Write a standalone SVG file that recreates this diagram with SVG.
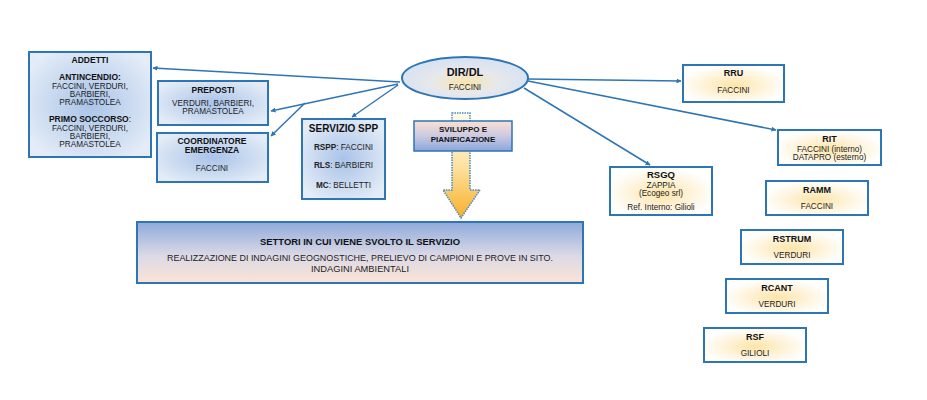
<svg xmlns="http://www.w3.org/2000/svg" width="927" height="400" viewBox="0 0 927 400">
<defs>
<radialGradient id="gBlue" cx="50%" cy="50%" r="60%">
<stop offset="0" stop-color="#a9c3e8"/>
<stop offset="1" stop-color="#e4ecf7"/>
</radialGradient>
<radialGradient id="gOrange" cx="50%" cy="55%" r="55%">
<stop offset="0" stop-color="#fde4a8"/>
<stop offset="0.6" stop-color="#fef5df"/>
<stop offset="1" stop-color="#ffffff"/>
</radialGradient>
<radialGradient id="gEll" cx="50%" cy="60%" r="55%">
<stop offset="0" stop-color="#f8e4ad"/>
<stop offset="0.5" stop-color="#e6e8ec"/>
<stop offset="1" stop-color="#d7e2f2"/>
</radialGradient>
<linearGradient id="gSett" x1="0" y1="0" x2="0" y2="1">
<stop offset="0" stop-color="#8eaadb"/>
<stop offset="0.55" stop-color="#dcd9e6"/>
<stop offset="1" stop-color="#fbe4d5"/>
</linearGradient>
<linearGradient id="gSvil" x1="0" y1="0" x2="0" y2="1">
<stop offset="0" stop-color="#fbe0d2"/>
<stop offset="0.5" stop-color="#cbc9e2"/>
<stop offset="1" stop-color="#8aa7db"/>
</linearGradient>
<linearGradient id="gArrow" x1="0" y1="0" x2="0" y2="1">
<stop offset="0" stop-color="#fdfbea"/>
<stop offset="0.5" stop-color="#fce3a2"/>
<stop offset="1" stop-color="#f7b02a"/>
</linearGradient>
<marker id="ah" viewBox="0 0 10 10" refX="9" refY="5" markerWidth="5" markerHeight="5" orient="auto" markerUnits="userSpaceOnUse">
<path d="M0,0 L10,5 L0,10 z" fill="#2e75b6"/>
</marker>
</defs>
<style>
.bb{fill:url(#gBlue);stroke:#2e75b6;stroke-width:2}
.ob{fill:url(#gOrange);stroke:#2e75b6;stroke-width:2}
text{font-family:"Liberation Sans",Arial,sans-serif;fill:#222;text-anchor:middle}
.t{font-size:8.5px;font-weight:bold;fill:#111}
.s{font-size:8.2px}
.h{font-size:10px;font-weight:bold;fill:#111}
.c{stroke:#2e75b6;stroke-width:1.5;fill:none}
</style>
<rect width="927" height="400" fill="#ffffff"/>

<g id="connectors">
<line class="c" x1="400" y1="82" x2="153" y2="68" marker-end="url(#ah)"/>
<line class="c" x1="398" y1="84" x2="271" y2="111" marker-end="url(#ah)"/>
<line class="c" x1="305" y1="103" x2="271" y2="136" marker-end="url(#ah)"/>
<line class="c" x1="398" y1="85" x2="352" y2="117" marker-end="url(#ah)"/>
<line class="c" x1="528" y1="79" x2="681" y2="81" marker-end="url(#ah)"/>
<line class="c" x1="528" y1="81" x2="776" y2="130" marker-end="url(#ah)"/>
<line class="c" x1="524" y1="88" x2="650" y2="165" marker-end="url(#ah)"/>
</g>

<g id="addetti">
<rect class="bb" x="29" y="52" width="122" height="105"/>
<text class="t" x="90" y="63">ADDETTI</text>
<text class="t" x="90" y="80">ANTINCENDIO:</text>
<text class="s" x="90" y="89">FACCINI, VERDURI,</text>
<text class="s" x="90" y="97">BARBIERI,</text>
<text class="s" x="90" y="105">PRAMASTOLEA</text>
<text class="t" x="90" y="122">PRIMO SOCCORSO<tspan font-weight="normal">:</tspan></text>
<text class="s" x="90" y="131">FACCINI, VERDURI,</text>
<text class="s" x="90" y="139">BARBIERI,</text>
<text class="s" x="90" y="147">PRAMASTOLEA</text>
</g>

<g id="preposti">
<rect class="bb" x="158" y="81" width="110" height="44"/>
<text class="t" x="213" y="93">PREPOSTI</text>
<text class="s" x="213" y="106">VERDURI, BARBIERI,</text>
<text class="s" x="213" y="114">PRAMASTOLEA</text>
</g>

<g id="coordinatore">
<rect class="bb" x="157" y="133" width="111" height="49"/>
<text class="t" x="212" y="144">COORDINATORE</text>
<text class="t" x="212" y="153">EMERGENZA</text>
<text class="s" x="212" y="171">FACCINI</text>
</g>

<g id="spp">
<rect class="bb" x="302" y="119" width="83" height="80"/>
<text class="h" x="343.5" y="132">SERVIZIO SPP</text>
<text class="s" x="343.5" y="150"><tspan font-weight="bold">RSPP</tspan>: FACCINI</text>
<text class="s" x="343.5" y="168"><tspan font-weight="bold">RLS</tspan>: BARBIERI</text>
<text class="s" x="343.5" y="188"><tspan font-weight="bold">MC</tspan>: BELLETTI</text>
</g>

<g id="dir">
<ellipse cx="465" cy="78" rx="63" ry="21" fill="url(#gEll)" stroke="#2e75b6" stroke-width="2"/>
<text class="h" x="465" y="76" style="font-size:11px">DIR/DL</text>
<text class="s" x="465" y="90">FACCINI</text>
</g>

<g id="arrow">
<path d="M452,113 H470 V190 H480 L461,218 L443,190 H452 Z" fill="url(#gArrow)" stroke="#4a86c8" stroke-width="1.5" stroke-dasharray="1.5,1"/>
</g>

<g id="sviluppo">
<rect x="414" y="121" width="98" height="30" fill="url(#gSvil)" stroke="#2e75b6" stroke-width="1.5"/>
<text class="t" x="463" y="132" style="font-size:8px">SVILUPPO E</text>
<text class="t" x="463" y="142" style="font-size:8px">PIANIFICAZIONE</text>
</g>

<g id="settori">
<rect x="137" y="222" width="446" height="61" fill="url(#gSett)" stroke="#2e75b6" stroke-width="2"/>
<text class="t" x="360" y="245" style="font-size:8.5px" textLength="200" lengthAdjust="spacingAndGlyphs">SETTORI IN CUI VIENE SVOLTO IL SERVIZIO</text>
<text class="s" x="360" y="261" style="font-size:8.5px" textLength="386" lengthAdjust="spacingAndGlyphs">REALIZZAZIONE DI INDAGINI GEOGNOSTICHE, PRELIEVO DI CAMPIONI E PROVE IN SITO.</text>
<text class="s" x="360" y="272" style="font-size:8.5px" textLength="98" lengthAdjust="spacingAndGlyphs">INDAGINI AMBIENTALI</text>
</g>

<g id="rru">
<rect class="ob" x="683" y="65" width="101" height="37"/>
<text class="t" x="733.5" y="76" style="font-size:9px">RRU</text>
<text class="s" x="733.5" y="93">FACCINI</text>
</g>

<g id="rit">
<rect class="ob" x="778" y="130" width="103" height="35"/>
<text class="t" x="829.5" y="142" style="font-size:9px">RIT</text>
<text class="s" x="829.5" y="152">FACCINI (interno)</text>
<text class="s" x="829.5" y="160">DATAPRO (esterno)</text>
</g>

<g id="rsgq">
<rect class="ob" x="610" y="167" width="102" height="48"/>
<text class="t" x="661" y="178" style="font-size:9.5px">RSGQ</text>
<text class="s" x="661" y="188">ZAPPIA</text>
<text class="s" x="661" y="196">(Ecogeo srl)</text>
<text class="s" x="661" y="210">Ref. Interno: Gilioli</text>
</g>

<g id="ramm">
<rect class="ob" x="766" y="181" width="102" height="34"/>
<text class="t" x="817" y="193" style="font-size:9px">RAMM</text>
<text class="s" x="817" y="209">FACCINI</text>
</g>

<g id="rstrum">
<rect class="ob" x="741" y="230" width="102" height="34"/>
<text class="t" x="792" y="242" style="font-size:9px">RSTRUM</text>
<text class="s" x="792" y="258">VERDURI</text>
</g>

<g id="rcant">
<rect class="ob" x="726" y="279" width="102" height="34"/>
<text class="t" x="777" y="291" style="font-size:9px">RCANT</text>
<text class="s" x="777" y="307">VERDURI</text>
</g>

<g id="rsf">
<rect class="ob" x="704" y="328" width="102" height="34"/>
<text class="t" x="755" y="340" style="font-size:9px">RSF</text>
<text class="s" x="755" y="356">GILIOLI</text>
</g>
</svg>
